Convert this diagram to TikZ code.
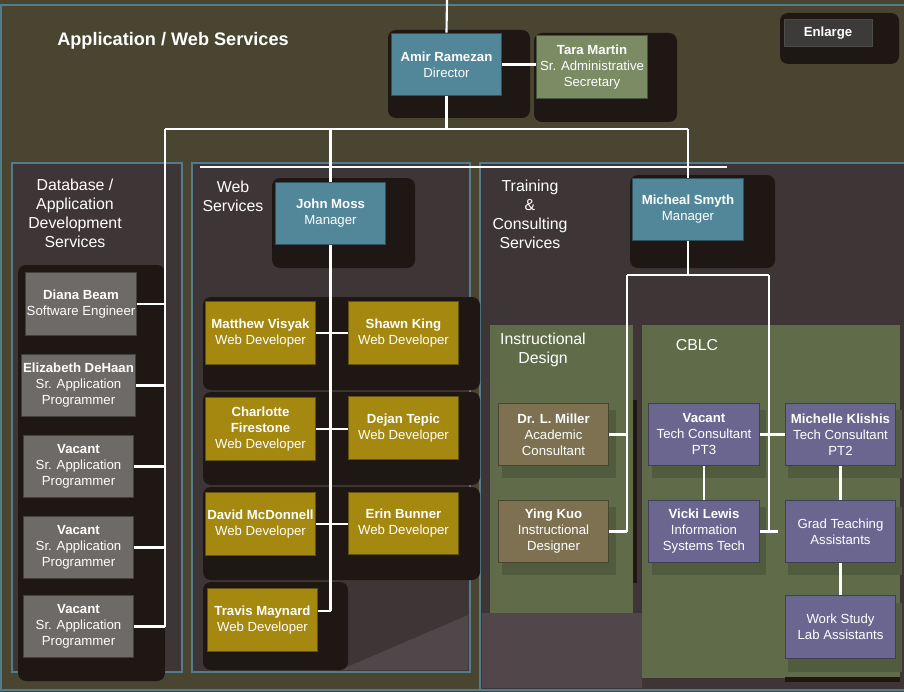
\documentclass[tikz,border=0pt]{standalone}
\usepackage{fontspec}
\setmainfont{Liberation Sans}
\definecolor{olivebg}{HTML}{4A4531}
\definecolor{panelbg}{HTML}{3E3536}
\definecolor{panelrim}{HTML}{527C8A}
\definecolor{darkshade}{HTML}{1F1714}
\definecolor{mgrteal}{HTML}{52879A}
\definecolor{secgreen}{HTML}{7B8B63}
\definecolor{dbgray}{HTML}{6E6A67}
\definecolor{webgold}{HTML}{A4880F}
\definecolor{idbrown}{HTML}{7D7152}
\definecolor{cblcpurple}{HTML}{6A6690}
\definecolor{areagreen}{HTML}{5F6B49}
\definecolor{btngray}{HTML}{3D3B3A}
\definecolor{paleband}{HTML}{51474B}
\begin{document}
\begin{tikzpicture}[x=0.75pt, y=-0.75pt,
    staff/.style={fill=#1, draw=#1!60!black, line width=0.8pt, text=white,
      minimum width=83pt, minimum height=47pt, inner sep=1pt, align=center,
      font=\fontsize{9.9}{12}\selectfont},
    wire/.style={draw=white, line width=1.6pt},
    boxshadow/.style={fill=darkshade, rounded corners=6pt},
    rim/.style={draw=panelrim, line width=2.2pt},
    grouplabel/.style={text=white, align=center, font=\fontsize{11.9}{14.3}\selectfont}]

  \useasboundingbox (0,0) rectangle (904,692);
  \fill[olivebg] (0,0) rectangle (904,692);
  \draw[rim] (1,5) rectangle (915,690);

  % the three sections
  \draw[rim, fill=panelbg] (12,163) rectangle (182,672);
  \draw[rim, fill=panelbg] (192,163) rectangle (470,672);
  \draw[rim, fill=panelbg] (480,163) rectangle (915,690);
  \fill[paleband] (340,670) -- (468,615) -- (468,670) -- cycle;
  \fill[paleband] (482,613) -- (642,613) -- (642,688) -- (482,688) -- cycle;
  \fill[areagreen] (490,325) rectangle (633,613);
  \fill[areagreen] (642,325) rectangle (900,678);

  % shadows
  \fill[boxshadow] (388,30) rectangle (530,118);
  \fill[boxshadow] (534,33) rectangle (677,122);
  \fill[boxshadow] (780,13) rectangle (899,64);
  \fill[boxshadow] (18,265) rectangle (165,681);
  \fill[boxshadow] (272,178) rectangle (415,268);
  \fill[boxshadow] (203,297) rectangle (480,390);
  \fill[boxshadow] (203,392) rectangle (480,485);
  \fill[boxshadow] (203,487) rectangle (480,580);
  \fill[boxshadow] (203,582) rectangle (348,670);
  \fill[boxshadow] (630,175) rectangle (775,268);
  \fill[darkshade] (633,400) rectangle (637,583);
  \fill[areagreen!85!black] (502,410) rectangle (616,478);
  \fill[areagreen!85!black] (502,507) rectangle (616,575);
  \fill[areagreen!85!black] (652,410) rectangle (766,478);
  \fill[areagreen!85!black] (652,507) rectangle (766,575);
  \fill[areagreen!85!black] (788,410) rectangle (902,478);
  \fill[areagreen!85!black] (788,507) rectangle (902,575);
  \fill[areagreen!85!black] (788,603) rectangle (902,672);
  \fill[darkshade] (785,677) rectangle (900,682);

  % titles
  \node[text=white, font=\bfseries\fontsize{13.6}{15}\selectfont] (title) at (173,41) {Application / Web Services};
  \node[fill=btngray, draw=black!70, text=white, minimum width=66pt, minimum height=20pt,
    font=\bfseries\fontsize{9.9}{12}\selectfont] (enlarge) at (828,33) {Enlarge};
  \node[grouplabel] (dblabel) at (75,213) {Database /\\Application\\Development\\Services};
  \node[grouplabel] (weblabel) at (233,196) {Web\\Services};
  \node[grouplabel] (trainlabel) at (530,214) {Training\\\&\\Consulting\\Services};
  \node[grouplabel] (idlabel) at (543,350) {Instructional\\Design};
  \node[grouplabel] (cblclabel) at (697,345) {CBLC};

  % director
  \node[staff=mgrteal] (amir) at (446.5,64.5) {\textbf{Amir Ramezan}\\Director};
  \node[staff=secgreen] (tara) at (592,67) {\textbf{Tara Martin}\\Sr. Administrative\\Secretary};

  % database
  \node[staff=dbgray] (diana) at (81,304) {\textbf{Diana Beam}\\Software Engineer};
  \node[staff=dbgray] (elizabeth) at (78.5,385.5) {\textbf{Elizabeth DeHaan}\\Sr. Application\\Programmer};
  \node[staff=dbgray] (vacantA) at (78.5,466.5) {\textbf{Vacant}\\Sr. Application\\Programmer};
  \node[staff=dbgray] (vacantB) at (78.5,547.5) {\textbf{Vacant}\\Sr. Application\\Programmer};
  \node[staff=dbgray] (vacantC) at (78.5,626.5) {\textbf{Vacant}\\Sr. Application\\Programmer};

  % web
  \node[staff=mgrteal] (john) at (330.5,213.5) {\textbf{John Moss}\\Manager};
  \node[staff=webgold] (matthew) at (260.5,333) {\textbf{Matthew Visyak}\\Web Developer};
  \node[staff=webgold] (shawn) at (403.5,333) {\textbf{Shawn King}\\Web Developer};
  \node[staff=webgold] (charlotte) at (260.5,429) {\textbf{Charlotte}\\\textbf{Firestone}\\Web Developer};
  \node[staff=webgold] (dejan) at (403.5,428) {\textbf{Dejan Tepic}\\Web Developer};
  \node[staff=webgold] (david) at (260.5,524) {\textbf{David McDonnell}\\Web Developer};
  \node[staff=webgold] (erin) at (403.5,523.5) {\textbf{Erin Bunner}\\Web Developer};
  \node[staff=webgold] (travis) at (262.5,620) {\textbf{Travis Maynard}\\Web Developer};

  % training
  \node[staff=mgrteal] (micheal) at (688,209.5) {\textbf{Micheal Smyth}\\Manager};
  \node[staff=idbrown] (miller) at (553.5,434.5) {\textbf{Dr. L. Miller}\\Academic\\Consultant};
  \node[staff=idbrown] (ying) at (553.5,531.5) {\textbf{Ying Kuo}\\Instructional\\Designer};
  \node[staff=cblcpurple] (vacantD) at (704,434.5) {\textbf{Vacant}\\Tech Consultant\\PT3};
  \node[staff=cblcpurple] (michelle) at (840.5,434.5) {\textbf{Michelle Klishis}\\Tech Consultant\\PT2};
  \node[staff=cblcpurple] (vicki) at (704,531.5) {\textbf{Vicki Lewis}\\Information\\Systems Tech};
  \node[staff=cblcpurple] (grad) at (840.5,531.5) {Grad Teaching\\Assistants};
  \node[staff=cblcpurple] (workstudy) at (840.5,627) {Work Study\\Lab Assistants};

  % lines
  \coordinate (feed) at (447,0);
  \coordinate (busW) at (165,129);
  \coordinate (busE) at (688,129);
  \coordinate (idbus) at (627,275);
  \coordinate (cblcbus) at (769,275);
  \coordinate (travisport) at ([yshift=6.75pt]travis.east);

  \draw[wire] (200,167) -- (727,167);
  \draw[wire] (feed) -- (amir.north);
  \draw[wire] (amir.east) -- (amir.east -| tara.west);
  \draw[wire] (amir.south) -- (amir.south |- busW);
  \draw[wire] (busW) -- (busE);

  \draw[wire] (busW) -- (busW |- vacantC.east);
  \foreach \who in {diana, elizabeth, vacantA, vacantB, vacantC} {%
    \draw[wire] (\who.east) -- (\who.east -| busW);
  }

  \draw[wire] (john.north |- busW) -- (john.north);
  \draw[wire] (john.south) -- (john.south |- travisport);
  \draw[wire] (travisport) -- (travisport -| john.south);
  \foreach \a/\b in {matthew/shawn, charlotte/dejan, david/erin} {%
    \draw[wire] (\a.east) -- (\a.east -| \b.west);
  }

  \draw[wire] (busE) -- (micheal.north);
  \draw[wire] (micheal.south) -- (micheal.south |- idbus);
  \draw[wire] (idbus) -- (cblcbus);
  \draw[wire] (idbus) -- (idbus |- ying.east);
  \draw[wire] (miller.east) -- (miller.east -| idbus);
  \draw[wire] (ying.east) -- (ying.east -| idbus);
  \draw[wire] (cblcbus) -- (cblcbus |- vicki.east);
  \draw[wire] (vacantD.east) -- (vacantD.east -| michelle.west);
  \draw[wire] (vicki.east) -- ([xshift=13.5pt]vicki.east);
  \draw[wire] (vacantD.south) -- (vicki.north);
  \draw[wire] (michelle.south) -- (grad.north);
  \draw[wire] (grad.south) -- (workstudy.north);
\end{tikzpicture}
\end{document}
